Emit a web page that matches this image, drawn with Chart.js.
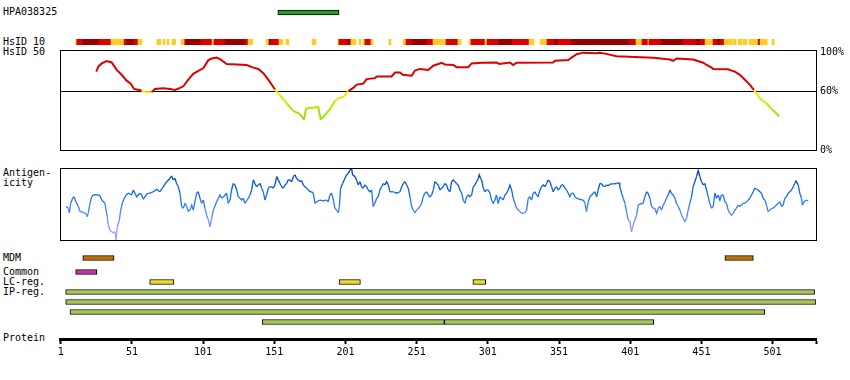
<!DOCTYPE html>
<html><head><meta charset="utf-8">
<script src="https://cdn.jsdelivr.net/npm/chart.js@4/dist/chart.umd.min.js"></script>
<style>
html,body{margin:0;padding:0;background:#fff;}
#root{position:relative;width:850px;height:380px;overflow:hidden;font-family:"DejaVu Sans Mono",monospace;font-size:10px;color:#000;}
#root canvas{position:absolute;left:0;}
.lbl{position:absolute;left:3px;line-height:10px;white-space:pre;}
</style></head>
<body><div id="root">
<div class="lbl" style="top:7px">HPA038325</div>
<div class="lbl" style="top:37px">HsID 10</div>
<div class="lbl" style="top:47px">HsID 50</div>
<div class="lbl" style="top:168px">Antigen-
icity</div>
<div class="lbl" style="top:253px">MDM</div>
<div class="lbl" style="top:267px">Common</div>
<div class="lbl" style="top:277px">LC-reg.</div>
<div class="lbl" style="top:287px">IP-reg.</div>
<div class="lbl" style="top:333px">Protein</div>
<canvas id="cHpa" width="850" height="25" style="top:0px"></canvas>
<canvas id="cHs" width="850" height="25" style="top:30px"></canvas>
<canvas id="cSim" width="850" height="122" style="top:40px"></canvas>
<canvas id="cAnt" width="850" height="90" style="top:160px"></canvas>
<canvas id="cMdm" width="850" height="16" style="top:250px"></canvas>
<canvas id="cTrk" width="850" height="70" style="top:262px"></canvas>
<canvas id="cAxis" width="850" height="40" style="top:330px"></canvas>
</div>
<script>
// ---------------- data ----------------
const proteinLength = 531;
const proteinTicks = [1, 51, 101, 151, 201, 251, 301, 351, 401, 451, 501];
const simTicks = [0, 60, 100];

const hpaName = ['HPA038325'];
const hpaStart = [154];
const hpaEnd = [196];

// HsID 10 strip: sequence spans and identity level (0 = lower, 1 = high, 2 = highest)
const hsFrom = [11.6,12.3,16.4,27.9,36.3,45.5,47.3,52.5,55.3,68.6,72.8,75.6,79.1,85.5,88.1,89,99.5,107.3,108.7,116.4,130.4,132.6,145.2,147.3,148.7,154.3,159.2,177.5,195.7,196.4,202.8,204.2,204.9,210.5,213.3,214.7,218.9,231.5,241.4,243.5,247.7,258.3,262.5,271.6,280,287.8,289.2,299,300.5,308.9,318,330,337.7,342.6,348.2,350.3,359.5,400.2,405.1,409.3,413.5,414.2,422.7,438.1,447.2,450.1,453.6,459.2,462.7,464.1,467,473.3,476.8,480.3,484.5,490.9,492.3,500.7];
const hsTo =   [12.3,16.4,27.9,36.3,45.5,47.3,52.5,55.3,58,71.2,74.2,77,81.8,88.1,89,99.5,107.3,108.7,116.4,130.4,132.6,135.8,147.3,148.7,154.3,157.1,161.3,180.3,196.4,202.8,204.2,204.9,208.4,211.9,214.7,218.9,220.3,233,243.5,247.7,258.3,262.5,271.6,280,282.2,289.2,299,300.5,308.9,318,330,333.5,342.6,348.2,350.3,359.5,400.2,405.1,409.3,413.5,414.2,422.7,438.1,447.2,450.1,453.6,459.2,462.7,464.1,467,472.6,475.4,479.6,483.1,490.9,492.3,497.2,502.2];
const hsLevel = [0,1,2,1,0,1,2,1,0,0,0,0,0,0,1,2,1,0,1,2,1,0,0,2,1,0,0,0,0,1,2,1,0,0,0,1,0,0,0,1,2,1,0,1,0,0,1,0,1,2,1,0,0,1,2,1,2,1,0,1,0,1,2,1,2,1,0,1,2,1,0,0,0,0,0,1,0,0];

// HsID 50 similarity (%)
const simPos = [26,27.4,29.8,33.3,36.8,40.3,43.8,47.3,50.2,52.5,54.4,57.9,60.2,64.9,67.2,73,77.8,81.3,84.8,87.1,90.6,94.1,97.6,101.1,104.7,107,110.6,112.9,117.6,131.6,136.3,139.8,143.3,146.8,151.5,155,159.7,164.3,169,171.9,173.3,179.6,181.9,183.6,186.6,190.1,193.6,195.9,199.5,203,206.5,208.9,213.5,215.9,221.7,222.9,233.4,235.8,239.3,241.2,247.5,249.8,253.3,259.1,262.7,268.6,270.9,276.7,279.1,287.2,289.6,296.6,307.2,309,316.5,318.8,321.2,346.9,348.1,357.5,359.8,363.4,368,377.4,379.7,383.2,391.4,417.2,428.9,431.2,433.6,445.2,452.3,454.7,458.2,459.3,469.8,472.2,474.5,478,481.6,485,487.9,490.9,493.3,496.8,500.3,503.8,505.6];
const simPct = [80,85,88.3,90.7,89.3,81.7,76.7,70.7,67.7,62.3,61.7,60.7,59,59,62.3,63,62.3,61.3,63.3,65,71.7,77.7,80.7,83.3,91.7,93.3,94.3,92.7,87.7,86.7,84,82.7,78.3,71.7,61.7,55.7,47.7,40,36.7,31,42.3,43.3,44.3,31,35.7,41.7,50,52.7,54,60,63.3,66.7,67.7,72.3,73.3,75,75,79,79,76.7,75.7,81,82.7,81.7,86,89,87.3,86.7,84.3,84.3,88.3,89,89.3,87.7,89.3,86.7,89,89.3,91,91.7,94.3,97.7,99.3,98.7,99.3,98.3,95.7,94,92.3,91,93.3,92.3,89,86.7,84,82.7,82.3,81,80,76.7,71.7,66.7,61,55,51,47.7,41.7,37.3,34.3];

// Antigenicity score
const antiPos = [4.7,6.4,7.1,8.0,9.4,10.3,11.7,13.4,14.6,16.9,
18.8,19.7,20.4,21.6,22.7,23.9,26.3,28.6,29.8,32.1,
32.8,33.7,34.4,35.6,36.8,38.0,39.1,39.8,40.8,42.2,
43.1,44.5,45.4,46.9,48.5,50.8,52.0,53.2,54.3,56.7,
57.9,59.0,61.4,63.7,66.0,68.4,70.7,73.1,75.4,77.7,
78.9,80.1,81.3,82.4,83.6,84.8,85.9,87.1,88.3,89.5,
90.6,91.8,93.0,94.1,96.5,97.6,98.8,100.0,101.2,102.3,
103.5,104.7,105.8,107.0,108.2,110.5,111.7,112.9,114.0,115.2,
116.4,117.5,118.7,119.9,121.0,122.2,123.4,124.6,125.7,126.9,
128.1,129.2,130.4,131.6,132.8,133.9,135.1,136.3,137.4,138.6,
139.8,141.0,142.1,143.3,144.5,145.6,146.8,148.0,149.1,150.3,
151.5,152.7,153.8,155.0,156.2,157.3,158.5,159.7,160.8,162.0,
163.2,164.4,165.5,166.7,167.9,169.0,170.2,171.4,172.5,173.7,
174.9,176.1,177.2,178.4,179.6,180.7,183.1,185.4,187.8,188.9,
190.1,191.3,192.5,193.6,194.8,196.0,196.7,197.6,199.0,200.6,
201.8,203.0,204.1,205.3,206.0,207.7,208.8,210.0,211.2,212.3,
213.5,214.7,215.9,217.0,218.2,219.4,220.5,221.7,222.9,224.0,
225.2,226.4,227.6,228.7,229.9,231.1,232.2,234.6,236.9,239.3,
240.5,241.6,242.8,244.0,245.1,246.3,247.5,248.6,249.8,251.0,
252.2,253.3,254.5,255.6,256.8,258.0,259.2,260.3,261.5,262.7,
263.8,265.0,266.2,267.3,268.5,269.7,270.9,272.0,273.2,274.4,
275.5,276.7,277.9,279.0,280.2,281.4,282.6,283.7,284.9,286.1,
287.2,288.4,289.6,290.8,291.9,293.1,294.3,295.0,295.9,296.6,
297.8,298.9,300.1,301.3,302.5,303.6,304.8,306.0,307.1,308.3,
309.5,310.6,311.8,313.0,314.2,315.3,316.5,317.7,318.8,320.0,
321.2,322.4,323.5,324.7,325.9,327.0,328.2,329.4,330.5,331.7,
332.9,334.1,335.2,336.4,337.6,338.7,339.9,341.1,342.3,343.4,
344.6,345.8,346.9,348.1,349.3,350.4,351.6,352.8,354.0,355.1,
356.3,357.5,358.6,359.8,361.0,362.2,363.3,365.7,368.0,369.2,
370.3,371.5,372.7,373.9,375.0,376.2,377.4,378.5,379.7,380.9,
382.0,383.2,384.4,385.6,386.7,389.1,391.4,393.3,393.7,394.9,
396.1,397.3,398.4,399.6,400.8,401.9,403.1,404.3,405.5,406.6,
407.8,410.1,411.3,412.5,413.6,414.8,416.0,417.2,418.3,419.5,
420.7,421.8,423.0,424.2,425.4,426.5,427.7,428.9,430.0,431.2,
432.4,433.5,434.7,435.9,437.1,438.2,439.4,440.6,441.7,442.9,
444.1,445.2,446.4,447.6,448.8,449.9,451.1,452.3,453.4,454.6,
455.8,456.9,458.1,459.3,460.5,461.6,462.8,464.0,465.1,466.3,
467.5,468.6,469.8,471.0,472.2,473.3,474.5,475.7,476.8,478.0,
479.2,480.4,481.5,482.7,483.9,485.0,486.2,487.4,488.5,489.7,
490.9,492.1,493.2,494.4,495.6,496.7,497.9,499.1,500.2,501.4,
502.6,503.8,504.9,506.1,507.3,508.4,509.6,510.8,511.9,513.1,
514.3,515.5,516.6,517.3,519.0,520.1,521.3,522.0,523.0,524.8,
526.0];
const antiScore = [-6,-12,-24,2,16,20,6,-7,-21,-23,
-28,-35,-24,2,20,25,26,23,11,2,
-17,-35,-58,-72,-77,-80,-77,-100,-63,-44,
-17,6,13,25,30,25,39,30,20,30,
25,13,28,30,34,41,34,48,62,71,
78,67,71,57,48,30,-7,-12,2,-7,
-21,-17,-3,-17,30,34,16,2,11,-12,
-31,-44,-63,-40,-17,6,16,25,16,19,
25,30,2,11,39,57,53,39,20,16,
11,16,2,9,16,25,39,67,57,48,
53,57,44,34,11,25,44,48,48,44,
53,76,67,57,48,44,53,57,67,67,
62,76,81,71,67,62,65,53,48,44,
39,34,34,30,2,6,11,9,11,6,
25,30,11,-12,-17,-24,-7,44,57,71,
81,85,94,99,81,76,67,53,62,48,
44,53,48,39,34,39,-7,2,16,20,
39,48,57,53,62,53,34,34,30,34,
48,57,62,53,44,20,-7,-17,-24,-17,
-12,-7,2,20,30,34,25,20,25,39,
62,57,53,39,44,48,57,53,39,34,
62,67,62,57,53,39,30,11,2,20,
25,20,25,48,53,62,71,81,71,67,
44,34,39,39,30,11,2,11,25,2,
20,16,11,25,30,39,53,39,16,2,
-12,-17,-21,-26,-26,-24,-17,16,20,11,
30,34,25,20,39,48,53,48,57,67,
62,48,34,44,48,39,44,53,53,44,
39,30,20,30,30,20,16,13,11,2,
-21,6,20,25,30,34,20,39,57,56,
50,48,53,50,55,56,57,59,48,30,
16,2,-21,-44,-49,-77,-58,-44,-31,-3,
0,2,20,34,30,16,-7,-12,-12,-26,
-12,-7,-17,-3,6,16,25,39,30,25,
16,2,-7,-17,-31,-40,-49,-40,-17,2,
20,48,62,76,93,76,62,53,57,39,
20,2,-12,-7,30,16,25,11,25,25,
6,2,-17,-26,-31,-26,-17,-12,-3,-6,
-3,2,2,6,11,16,25,34,44,41,
39,34,30,16,11,-3,-21,-17,-12,-12,
-7,-3,2,6,-7,-3,16,20,30,34,
39,48,57,65,53,30,16,-3,6,11,
9];

// Feature tracks (residue ranges)
const mdmStart = [17, 468];
const mdmEnd = [38, 487];
const commonStart = [12];
const commonEnd = [26];
const lcStart = [64, 197, 291];
const lcEnd = [80, 211, 299];
const trackRows = ['Common', 'LC-reg.', 'IP-reg. 1', 'IP-reg. 2', 'IP-reg. 3', 'IP-reg. 4'];
const ipRow = [2, 3, 4, 5, 5];
const ipStart = [5, 5, 8, 143, 271];
const ipEnd = [530, 531, 495, 270, 417];

// ---------------- styles / layout ----------------
const FONT = '"DejaVu Sans Mono", monospace';
Chart.defaults.font.family = FONT;
Chart.defaults.font.size = 10;
Chart.defaults.color = '#000';
const AXIS_MIN = 0.5, AXIS_MAX = proteinLength + 0.5;
const PAD_L = 60, PAD_R = 34;
const hsPalette = ['#ffcc22', '#dd0000', '#990000'];

function lerp(a, b, t) { return Math.round(a + (b - a) * t); }
function simColor(v) {
  if (v >= 60) return '#dd0000';
  const t = Math.max(0, Math.min(1, (60 - v) / 25));
  return 'rgb(' + lerp(255, 150, t) + ',' + lerp(235, 228, t) + ',0)';
}
const antStops = [[-100, [190, 170, 255]], [-70, [150, 150, 255]], [-40, [95, 140, 255]], [-10, [55, 128, 250]], [20, [25, 112, 238]], [50, [5, 92, 212]], [80, [0, 62, 175]], [100, [0, 50, 160]]];
function antColor(v) {
  for (let i = 1; i < antStops.length; i++) {
    if (v <= antStops[i][0]) {
      const [v0, c0] = antStops[i - 1], [v1, c1] = antStops[i];
      const t = Math.max(0, (v - v0) / (v1 - v0));
      return 'rgb(' + lerp(c0[0], c1[0], t) + ',' + lerp(c0[1], c1[1], t) + ',' + lerp(c0[2], c1[2], t) + ')';
    }
  }
  return 'rgb(0,50,160)';
}

const boxPlugin = {
  id: 'box',
  afterDraw(chart) {
    const { ctx, chartArea: a } = chart;
    ctx.save();
    ctx.strokeStyle = '#000';
    ctx.lineWidth = 1;
    ctx.strokeRect(Math.round(a.left) + 0.5, Math.round(a.top) + 0.5, Math.round(a.right - a.left), Math.round(a.bottom - a.top));
    ctx.restore();
  }
};

const common = {
  responsive: false, maintainAspectRatio: false, animation: false, devicePixelRatio: 1,
  plugins: { legend: { display: false }, tooltip: { enabled: false } }
};
function xHidden() { return { type: 'linear', min: AXIS_MIN, max: AXIS_MAX, display: false }; }

function spanData(starts, ends, label) {
  return starts.map((s, i) => ({ x: [s - 0.5, ends[i] + 0.5], y: typeof label === 'function' ? label(i) : label }));
}

function trackChart(id, rows, datasets, padTop, padBottom) {
  return new Chart(document.getElementById(id), {
    type: 'bar',
    data: { labels: rows, datasets },
    options: Object.assign({}, common, {
      indexAxis: 'y',
      layout: { padding: { left: PAD_L, right: PAD_R, top: padTop, bottom: padBottom } },
      scales: { x: xHidden(), y: { type: 'category', display: false } }
    })
  });
}
function barSet(data, color, thick, border) {
  return { data, backgroundColor: color, borderColor: '#000', borderWidth: border, borderSkipped: false, barThickness: thick, grouped: false };
}

// HPA antigen
trackChart('cHpa', hpaName, [barSet(spanData(hpaStart, hpaEnd, hpaName[0]), '#22a022', 5, 1)], 5, 5);

// HsID 10 strip
trackChart('cHs', ['HsID 10'], [barSet(hsFrom.map((f, i) => ({ x: [f, hsTo[i]], y: 'HsID 10' })), hsLevel.map(l => hsPalette[l]), 6, 0)], 9, 10);

// HsID 50 similarity
new Chart(document.getElementById('cSim'), {
  type: 'line',
  data: { datasets: [{
    data: simPos.map((x, i) => ({ x, y: simPct[i] })),
    borderColor: '#dd0000', borderWidth: 2, pointRadius: 0, tension: 0,
    segment: { borderColor: c => simColor((c.p0.parsed.y + c.p1.parsed.y) / 2) }
  }] },
  options: Object.assign({}, common, {
    layout: { padding: { left: PAD_L, right: 0, top: 8, bottom: 12 } },
    scales: {
      x: xHidden(),
      y: {
        position: 'right', min: 0, max: 102,
        afterBuildTicks: s => { s.ticks = simTicks.map(v => ({ value: v })); },
        afterFit: s => { s.width = PAD_R; },
        grid: { drawTicks: false, lineWidth: 1, color: c => (c.tick && c.tick.value === 60) ? '#000' : 'rgba(0,0,0,0)' },
        border: { display: false },
        ticks: { padding: 4, color: '#000', font: { family: FONT, size: 10 }, callback: v => v + '%' }
      }
    }
  }),
  plugins: [boxPlugin]
});

// Antigenicity
new Chart(document.getElementById('cAnt'), {
  type: 'line',
  data: { datasets: [{
    data: antiPos.map((x, i) => ({ x, y: antiScore[i] })),
    borderColor: '#2070f0', borderWidth: 1.3, pointRadius: 0, tension: 0,
    segment: { borderColor: c => antColor((c.p0.parsed.y + c.p1.parsed.y) / 2) }
  }] },
  options: Object.assign({}, common, {
    layout: { padding: { left: PAD_L, right: PAD_R, top: 8, bottom: 10 } },
    scales: { x: xHidden(), y: { display: false, min: -100, max: 100 } }
  }),
  plugins: [boxPlugin]
});

// MDM
trackChart('cMdm', ['MDM'], [barSet(spanData(mdmStart, mdmEnd, 'MDM'), '#bb7000', 5, 1)], 3, 3);

// Common, LC-reg., IP-reg.
trackChart('cTrk', trackRows, [
  barSet(spanData(commonStart, commonEnd, trackRows[0]), '#cc2ea8', 5, 1),
  barSet(spanData(lcStart, lcEnd, trackRows[1]), '#eedc22', 5, 1),
  barSet(spanData(ipStart, ipEnd, i => trackRows[ipRow[i]]), '#a4c855', 5, 1)
], 5, 5);

// Protein axis
new Chart(document.getElementById('cAxis'), {
  type: 'scatter',
  data: { datasets: [{ data: [] }] },
  options: Object.assign({}, common, {
    layout: { padding: { left: PAD_L, right: PAD_R, top: 0, bottom: 0 } },
    scales: {
      x: {
        type: 'linear', position: 'bottom', min: AXIS_MIN, max: AXIS_MAX,
        afterBuildTicks: s => { s.ticks = proteinTicks.concat([AXIS_MAX]).map(v => ({ value: v })); },
        afterFit: s => { s.height = 31; },
        border: { display: true, color: '#000', width: 3 },
        grid: { display: true, drawOnChartArea: false, drawTicks: true, tickLength: 5, tickWidth: 2, tickColor: '#000' },
        ticks: { autoSkip: false, maxRotation: 0, minRotation: 0, padding: 2, color: '#000', font: { family: FONT, size: 10 },
          callback: v => proteinTicks.includes(v) ? String(v) : '' }
      },
      y: { display: false }
    }
  })
});
</script>
</body></html>
